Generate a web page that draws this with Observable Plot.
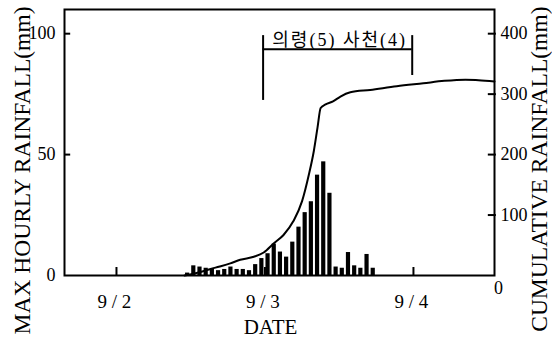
<!DOCTYPE html>
<html>
<head>
<meta charset="utf-8">
<script src="https://cdn.jsdelivr.net/npm/d3@7"></script>
<script src="https://cdn.jsdelivr.net/npm/@observablehq/plot@0.6"></script>
<style>
  html, body { margin: 0; padding: 0; background: #fff; }
  #chart svg { display: block; }
</style>
</head>
<body>
<div id="chart"></div>
<script>
// Hours counted from 9/2 00:00
const barHours = [11,12,13,14,15,16,17,18,19,20,21,22,23,24,25,26,27,28,29,30,31,32,33,34,35,36,37,38,39,40,41];
const maxHourly = [1,4,3.5,3,2.5,2,2.5,3.5,2.5,2.5,2,4.5,7,9,13,9.7,7.6,13.8,20,26,30.5,41.5,47,34,3.5,3,9.5,4,3,8.7,3];

const cumHours = [11,12.5,14,16,18.4,20,22.2,23.8,25.4,27,28.6,30,31.1,31.9,32.5,33,33.8,35,36.2,37.8,41,45.3,49.6,53,56.4,58.5,61.1];
const cumRain  = [0,3,7,13,20,26,31,38,53,67,90,123,167,206,245,277,283,288,296,303,307,313,318,322,324,323,321];

const dateTicks = [0, 24, 48];
const dateLabels = ["9 / 2", "9 / 3", "9 / 4"];
const leftTicks = [0, 50, 100];
const rightTicks = [100, 200, 300, 400];
const rightZero = [0];

const xDomain = [-8.4, 61.1];
const leftMax = 110;
const rightMax = 440;
const ratio = rightMax / leftMax;

const bracketLabel = "의령(5) 사천(4)";
const bracketX = [23.7, 47.8];
const bracketBarY = 93.6;
const bracketTopY = 99.2;
const bracketLeftBottomY = 72.4;
const bracketRightBottomY = 82.7;
const bracketLabelY = 97.2;

const yTitleLeft = "MAX HOURLY RAINFALL(mm)";
const yTitleRight = "CUMULATIVE RAINFALL(mm)";
const xTitle = "DATE";

const bars = barHours.map((h, i) => ({h, v: maxHourly[i]}));
const cum = cumHours.map((h, i) => ({h, v: cumRain[i]}));
const bracketSides = [
  {x: bracketX[0], y1: bracketLeftBottomY, y2: bracketTopY},
  {x: bracketX[1], y1: bracketRightBottomY, y2: bracketTopY}
];

const serif = "Liberation Serif, Noto Sans CJK KR, serif";
const tickLen = 1;      // in hours along x
const xTickLen = 3.3;   // in left-axis units along y
const T = {fill: "#000", fontFamily: serif};

const chart = Plot.plot({
  width: 552,
  height: 340,
  marginTop: 9,
  marginBottom: 65,
  marginLeft: 64,
  marginRight: 58,
  style: {fontFamily: serif, background: "#fff", color: "#000"},
  x: {domain: xDomain, axis: null},
  y: {domain: [0, leftMax], axis: null},
  marks: [
    Plot.rectY(bars, {x1: d => d.h, x2: d => d.h + 1, y: "v", fill: "#000", insetLeft: 1, insetRight: 1}),
    Plot.line(cum, {x: "h", y: d => d.v / ratio, stroke: "#000", strokeWidth: 2, curve: "monotone-x"}),
    Plot.frame({stroke: "#000", strokeWidth: 2}),
    // left axis
    Plot.ruleY(leftTicks.filter(d => d > 0), {x1: xDomain[0], x2: xDomain[0] + tickLen, stroke: "#000", strokeWidth: 2}),
    Plot.text(leftTicks, {...T, x: xDomain[0], y: d => d, text: d => String(d), dx: -9, textAnchor: "end", fontSize: 18}),
    // right axis
    Plot.ruleY(rightTicks.map(d => d / ratio), {x1: xDomain[1] - tickLen, x2: xDomain[1] + 0.3, stroke: "#000", strokeWidth: 2}),
    Plot.text(rightTicks, {...T, x: xDomain[1], y: d => d / ratio, text: d => String(d), dx: 6, textAnchor: "start", fontSize: 18}),
    Plot.text(rightZero, {...T, x: xDomain[1], y: d => d, text: d => String(d), dx: 4, dy: 13, fontSize: 18}),
    // x axis
    Plot.ruleX(dateTicks, {y1: 0, y2: xTickLen, stroke: "#000", strokeWidth: 2}),
    Plot.text(dateTicks, {...T, x: d => d, y: 0, text: d => dateLabels[dateTicks.indexOf(d)], dx: -2, dy: 26, fontSize: 19}),
    // bracket annotation
    Plot.ruleX(bracketSides, {x: "x", y1: "y1", y2: "y2", stroke: "#000", strokeWidth: 2}),
    Plot.ruleY([bracketBarY], {x1: bracketX[0], x2: bracketX[1], stroke: "#000", strokeWidth: 2}),
    Plot.text([bracketLabel], {...T, x: (bracketX[0] + bracketX[1]) / 2, y: bracketLabelY, dx: 2, fontSize: 18, lineAnchor: "middle"}),
    // titles
    Plot.text([yTitleLeft], {...T, frameAnchor: "top-left", rotate: -90, textAnchor: "end", lineAnchor: "middle", dx: -42, dy: -3, fontSize: 23.5}),
    Plot.text([yTitleRight], {...T, frameAnchor: "top-right", rotate: -90, textAnchor: "end", lineAnchor: "middle", dx: 45, dy: -3, fontSize: 23.5}),
    Plot.text([xTitle], {...T, frameAnchor: "bottom", dx: -9, dy: 52, lineAnchor: "middle", fontSize: 21})
  ]
});

d3.select(chart).selectAll("text")
  .filter(function() { return this.textContent === bracketLabel; })
  .attr("letter-spacing", "2px");

document.getElementById("chart").appendChild(chart);
</script>
</body>
</html>
